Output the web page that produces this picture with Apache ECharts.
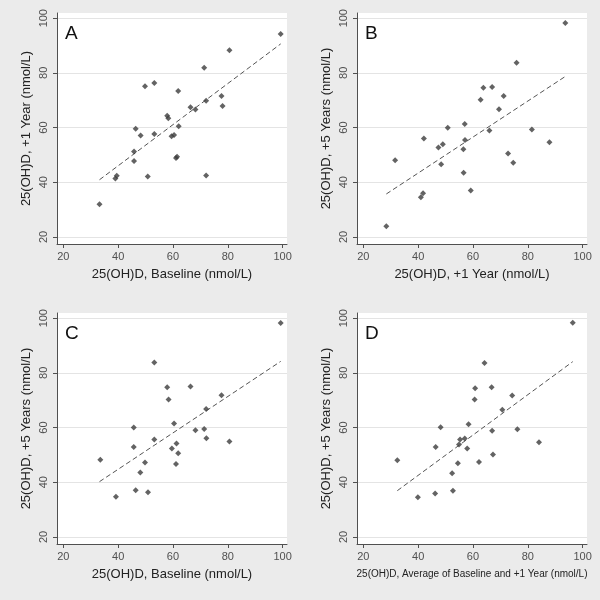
<!DOCTYPE html>
<html><head><meta charset="utf-8">
<script src="https://cdn.jsdelivr.net/npm/echarts@6/dist/echarts.min.js"></script>
<style>html,body{margin:0;padding:0;background:#ebebeb}#c{width:600px;height:600px}</style>
</head><body><div id="c"></div>
<script>
// Panel A: Baseline vs +1 Year
const aX = [33.2,39.0,39.5,45.8,45.8,46.4,48.2,49.8,50.8,53.2,53.2,57.9,58.3,59.5,60.4,61.1,61.5,61.9,62.1,66.4,68.2,71.4,72.1,72.1,77.7,78.1,80.6,99.3];
const aY = [31.9,41.4,42.4,47.8,51.2,59.6,57.1,75.1,42.1,76.3,57.6,64.3,63.4,56.8,57.3,48.9,49.3,73.4,60.5,67.4,66.6,81.9,69.8,42.5,71.5,67.9,88.3,94.2];
const aFitX = [33.2,99.3], aFitY = [40.9,90.6];
// Panel B: +1 Year vs +5 Years
const bX = [28.4,31.6,41.0,41.8,42.1,47.4,48.4,49.0,50.8,56.5,56.6,57.0,57.1,59.2,62.8,63.8,66.0,67.0,69.5,71.2,72.8,74.7,75.9,81.5,87.9,93.7];
const bY = [23.9,48.0,34.5,36.0,56.0,52.7,46.6,53.9,59.9,52.1,43.5,61.3,55.4,37.0,70.2,74.6,58.9,74.8,66.7,71.5,50.5,47.1,83.7,59.3,54.6,98.2];
const bFitX = [28.4,93.7], bFitY = [35.7,78.7];
// Panel C: Baseline vs +5 Years
const cX = [33.5,39.2,45.7,45.7,46.4,48.1,49.8,50.9,53.2,53.2,57.9,58.4,59.6,60.4,61.1,61.3,61.9,66.4,68.2,71.4,72.1,72.2,77.7,80.6,99.3];
const cY = [48.2,34.7,52.9,60.0,37.1,43.6,47.2,36.3,83.8,55.6,74.7,70.3,52.3,61.5,46.7,54.2,50.6,75.0,59.0,59.5,66.8,56.1,71.8,54.9,98.2];
const cFitX = [33.2,99.3], cFitY = [40.2,84.2];
// Panel D: Average of Baseline and +1 Year vs +5 Years
const dX = [32.4,39.9,46.2,46.4,48.2,52.4,52.7,54.5,54.9,55.3,57.0,57.9,58.4,60.6,60.8,62.2,64.2,66.8,67.0,67.3,70.7,74.3,76.2,84.1,96.4];
const dY = [48.0,34.5,35.9,52.9,60.1,43.3,36.9,46.9,53.8,55.6,56.0,52.3,61.2,70.3,74.4,47.4,83.6,74.7,58.8,50.1,66.5,71.7,59.4,54.6,98.3];
const dFitX = [32.4,96.4], dFitY = [36.9,84.1];

const ticks = [20,40,60,80,100];
const letters = ['A','B','C','D'];
const xTitles = ['25(OH)D, Baseline (nmol/L)','25(OH)D, +1 Year (nmol/L)','25(OH)D, Baseline (nmol/L)','25(OH)D, Average of Baseline and +1 Year (nmol/L)'];
const yTitles = ['25(OH)D, +1 Year (nmol/L)','25(OH)D, +5 Years (nmol/L)','25(OH)D, +5 Years (nmol/L)','25(OH)D, +5 Years (nmol/L)'];

const pts = [[aX,aY],[bX,bY],[cX,cY],[dX,dY]];
const fits = [[aFitX,aFitY],[bFitX,bFitY],[cFitX,cFitY],[dFitX,dFitY]];
const pos = [[57,13],[357,13],[57,313],[357,313]];
const FONT = 'Liberation Sans, Arial, sans-serif';

const grid=[], xAxis=[], yAxis=[], series=[], graphic=[];
for (let i=0;i<4;i++){
  grid.push({left:pos[i][0], top:pos[i][1], width:230, height:231, show:true, backgroundColor:'#ffffff', borderWidth:0});
  const axisCommon = {
    type:'value', gridIndex:i,
    axisLine:{show:true, lineStyle:{color:'#505050', width:1}},
    axisTick:{show:true, length:4, customValues:ticks, lineStyle:{color:'#505050'}},
    axisLabel:{customValues:ticks, color:'#505050', fontSize:11, fontFamily:FONT},
    nameLocation:'middle'
  };
  xAxis.push(Object.assign({}, axisCommon, {
    min:17.7, max:101.6, name:xTitles[i], nameGap:i===3?25:24,
    nameTextStyle:{color:'#222', fontSize:i===3?10:13, fontFamily:FONT},
    splitLine:{show:false},
    axisLabel:Object.assign({}, axisCommon.axisLabel, {margin:7})
  }));
  yAxis.push(Object.assign({}, axisCommon, {
    min:17.4, max:101.9, name:yTitles[i], nameGap:24,
    nameTextStyle:{color:'#222', fontSize:13, fontFamily:FONT},
    splitLine:{show:true, lineStyle:{color:'#e4e4e4', width:1}},
    axisLabel:Object.assign({}, axisCommon.axisLabel, {rotate:90, margin:8})
  }));
  series.push({
    type:'line', xAxisIndex:i, yAxisIndex:i, showSymbol:false, symbol:'none',
    data: fits[i][0].map((x,k)=>[x, fits[i][1][k]]),
    lineStyle:{color:'#555', width:1, type:[5,3]}, z:3
  });
  series.push({
    type:'scatter', xAxisIndex:i, yAxisIndex:i, symbol:'diamond', symbolSize:6,
    itemStyle:{color:'#3c3c3c'},
    data: pts[i][0].map((x,k)=>[x, pts[i][1][k]]), z:4
  });
  graphic.push({type:'text', left:pos[i][0]+8, top:pos[i][1]+11,
    style:{text:letters[i], fontSize:19, fontFamily:FONT, fill:'#111'}});
}

const chart = echarts.init(document.getElementById('c'), null, {renderer:'canvas'});
chart.setOption({backgroundColor:'#ebebeb', animation:false, grid, xAxis, yAxis, series, graphic});
</script></body></html>
